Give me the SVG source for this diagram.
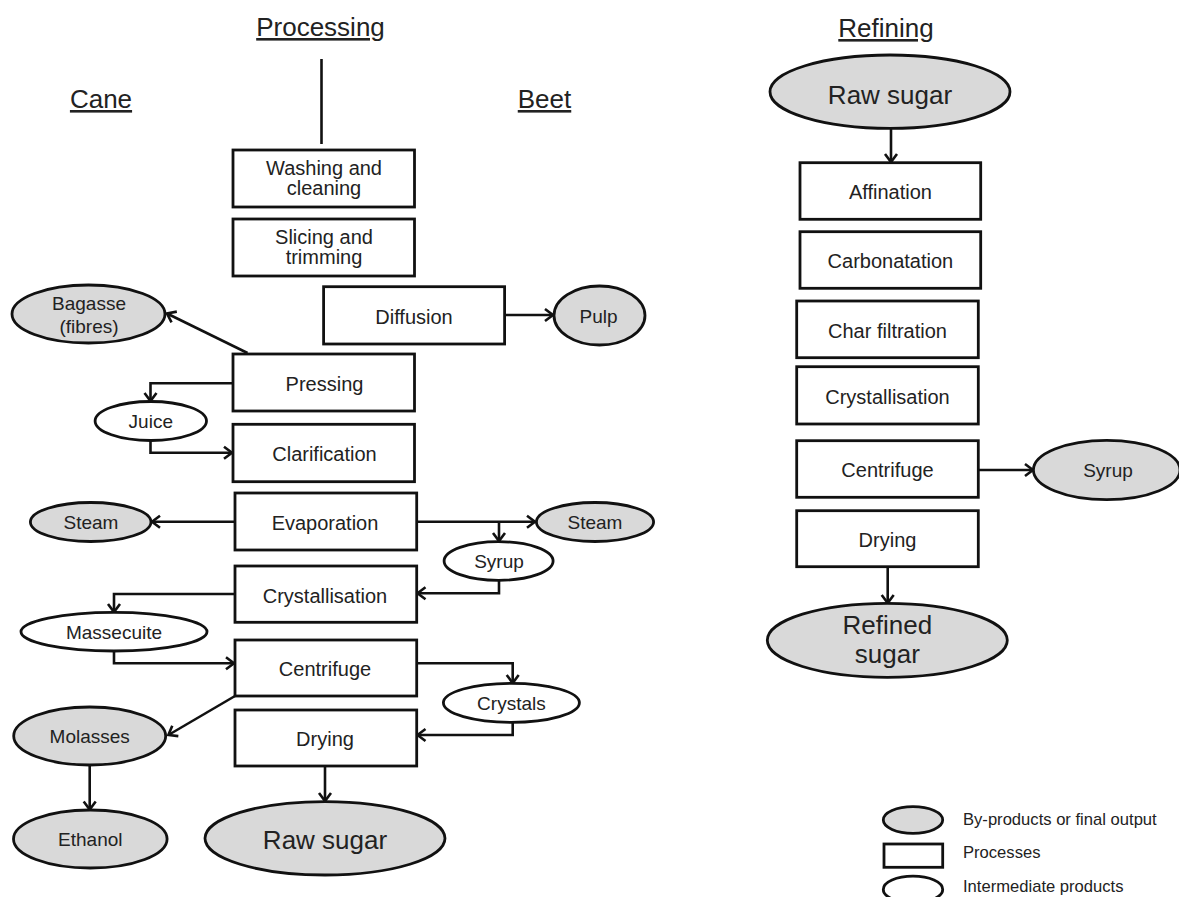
<svg xmlns="http://www.w3.org/2000/svg" width="1179" height="897" viewBox="0 0 1179 897">
<style>
.box{fill:#fff;stroke:#111;stroke-width:2.8}
.by{fill:#d9d9d9;stroke:#111;stroke-width:2.8}
.mid{fill:#fff;stroke:#111;stroke-width:2.8}
text{font-family:"Liberation Sans",Arial,sans-serif;fill:#222;text-anchor:middle;font-size:20px}
.s{font-size:19px}
.big{font-size:26px}
.title{font-size:26px;text-decoration:underline}
.leg{font-size:16.6px;text-anchor:start}
#connectors path{fill:none;stroke:#111;stroke-width:2.6}
</style>
<defs>
<marker id="arr" markerUnits="userSpaceOnUse" markerWidth="16" markerHeight="16" viewBox="0 0 16 16" refX="13" refY="8" orient="auto">
<path d="M5,2 L13,8 L5,14" fill="none" stroke="#111" stroke-width="2.6"/>
</marker>
</defs>
<rect width="1179" height="897" fill="#fff"/>
<g id="titles">
<text class="title" x="320.5" y="36">Processing</text>
<text class="title" x="101" y="108">Cane</text>
<text class="title" x="544.5" y="108">Beet</text>
<text class="title" x="886" y="37">Refining</text>
</g>
<g id="connectors">
<path d="M321.5,59 V144"/>
<path d="M504.6,315 H553" marker-end="url(#arr)"/>
<path d="M247.5,353 L167,313.5" marker-end="url(#arr)"/>
<path d="M233,383.3 H150.5 V401" marker-end="url(#arr)"/>
<path d="M150.5,440.5 V452.7 H232" marker-end="url(#arr)"/>
<path d="M235,521.7 H152" marker-end="url(#arr)"/>
<path d="M416.7,521.7 H535" marker-end="url(#arr)"/>
<path d="M499,521.7 V541" marker-end="url(#arr)"/>
<path d="M499,580.3 V593.3 H417.5" marker-end="url(#arr)"/>
<path d="M235,594 H114 V612" marker-end="url(#arr)"/>
<path d="M114,651 V663.3 H234" marker-end="url(#arr)"/>
<path d="M416.7,663.3 H512.7 V683" marker-end="url(#arr)"/>
<path d="M512.7,722.3 V735 H417.5" marker-end="url(#arr)"/>
<path d="M235,696 L168.4,735" marker-end="url(#arr)"/>
<path d="M89.7,765 V809.5" marker-end="url(#arr)"/>
<path d="M325,766 V801" marker-end="url(#arr)"/>
<path d="M891,128.3 V162" marker-end="url(#arr)"/>
<path d="M978.3,470 H1033" marker-end="url(#arr)"/>
<path d="M887.7,566.7 V603" marker-end="url(#arr)"/>
</g>
<g id="washing"><rect class="box" x="233" y="150" width="181.5" height="57"/><text x="324" y="175">Washing and</text><text x="324" y="195">cleaning</text></g>
<g id="slicing"><rect class="box" x="233" y="219" width="181.5" height="57"/><text x="324" y="244">Slicing and</text><text x="324" y="264">trimming</text></g>
<g id="diffusion"><rect class="box" x="323.6" y="286.7" width="181" height="57.3"/><text x="414" y="323.5">Diffusion</text></g>
<g id="pulp"><ellipse class="by" cx="599.5" cy="315.5" rx="45.5" ry="29.5"/><text class="s" x="598.5" y="322.5">Pulp</text></g>
<g id="bagasse"><ellipse class="by" cx="88.5" cy="314" rx="76.5" ry="29"/><text class="s" x="89" y="310">Bagasse</text><text class="s" x="89" y="333">(fibres)</text></g>
<g id="pressing"><rect class="box" x="233" y="354" width="181.5" height="57"/><text x="324.5" y="391">Pressing</text></g>
<g id="juice"><ellipse class="mid" cx="150.8" cy="421" rx="55.7" ry="19.5"/><text class="s" x="150.8" y="428">Juice</text></g>
<g id="clarification"><rect class="box" x="233" y="424.3" width="181.5" height="57.4"/><text x="324.5" y="461">Clarification</text></g>
<g id="evaporation"><rect class="box" x="235" y="493" width="181.7" height="57"/><text x="325" y="530">Evaporation</text></g>
<g id="steam-left"><ellipse class="by" cx="90.7" cy="522" rx="60.3" ry="19.5"/><text class="s" x="91" y="529">Steam</text></g>
<g id="steam-right"><ellipse class="by" cx="595" cy="522" rx="58.6" ry="19.5"/><text class="s" x="595" y="529">Steam</text></g>
<g id="syrup-mid"><ellipse class="mid" cx="498.6" cy="561" rx="54.5" ry="19.3"/><text class="s" x="499" y="568">Syrup</text></g>
<g id="crystallisation"><rect class="box" x="235" y="566" width="181.7" height="56.3"/><text x="325" y="602.5">Crystallisation</text></g>
<g id="massecuite"><ellipse class="mid" cx="114" cy="631.7" rx="93" ry="19.3"/><text class="s" x="114" y="638.7">Massecuite</text></g>
<g id="centrifuge"><rect class="box" x="235" y="640" width="181.7" height="56"/><text x="325" y="676">Centrifuge</text></g>
<g id="crystals"><ellipse class="mid" cx="511.4" cy="702.8" rx="68" ry="19.5"/><text class="s" x="511.4" y="709.8">Crystals</text></g>
<g id="drying"><rect class="box" x="235" y="710" width="181.7" height="56"/><text x="325" y="746">Drying</text></g>
<g id="molasses"><ellipse class="by" cx="89.7" cy="736" rx="76" ry="29"/><text class="s" x="89.7" y="743">Molasses</text></g>
<g id="ethanol"><ellipse class="by" cx="90.3" cy="839" rx="76.8" ry="29"/><text class="s" x="90.3" y="846">Ethanol</text></g>
<g id="raw-sugar-out"><ellipse class="by" cx="325" cy="838.3" rx="120" ry="36.7"/><text class="big" x="325" y="848.5">Raw sugar</text></g>
<g id="raw-sugar-in"><ellipse class="by" cx="890" cy="91.7" rx="120" ry="36.7"/><text class="big" x="890" y="104">Raw sugar</text></g>
<g id="affination"><rect class="box" x="800" y="162.7" width="180.7" height="56.6"/><text x="890.4" y="199">Affination</text></g>
<g id="carbonatation"><rect class="box" x="800" y="231.7" width="180.7" height="56.6"/><text x="890.4" y="268">Carbonatation</text></g>
<g id="char-filtration"><rect class="box" x="796.7" y="301" width="181.6" height="56.7"/><text x="887.5" y="337.5">Char filtration</text></g>
<g id="crystallisation-r"><rect class="box" x="796.7" y="366.7" width="181.6" height="57.3"/><text x="887.5" y="403.5">Crystallisation</text></g>
<g id="centrifuge-r"><rect class="box" x="796.7" y="440.7" width="181.6" height="56.6"/><text x="887.5" y="477">Centrifuge</text></g>
<g id="syrup-r"><ellipse class="by" cx="1106.7" cy="470" rx="73.3" ry="29.7"/><text class="s" x="1108" y="477">Syrup</text></g>
<g id="drying-r"><rect class="box" x="796.7" y="510.7" width="181.6" height="56"/><text x="887.5" y="546.5">Drying</text></g>
<g id="refined-sugar"><ellipse class="by" cx="887.3" cy="640.3" rx="120" ry="37"/><text class="big" x="887.3" y="634">Refined</text><text class="big" x="887.3" y="663">sugar</text></g>
<g id="legend">
<ellipse class="by" cx="913" cy="820" rx="29.7" ry="13.3"/>
<text class="leg" x="963" y="825">By-products or final output</text>
<rect class="box" x="884" y="844" width="58.7" height="23.3"/>
<text class="leg" x="963" y="858">Processes</text>
<ellipse class="mid" cx="913" cy="889.5" rx="29.7" ry="13.3"/>
<text class="leg" x="963" y="892">Intermediate products</text>
</g>
</svg>
